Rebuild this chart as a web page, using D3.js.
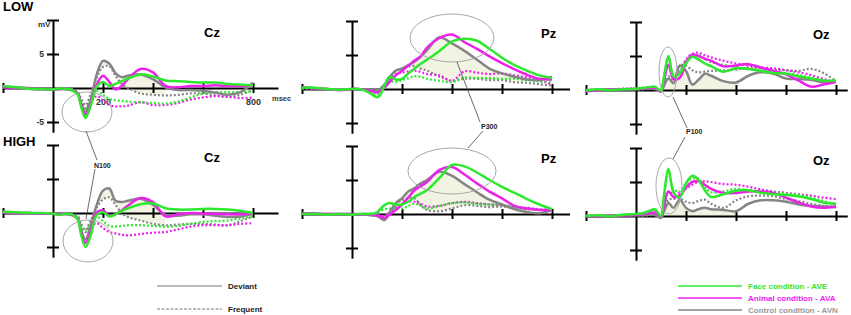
<!DOCTYPE html>
<html>
<head>
<meta charset="utf-8">
<script src="https://cdn.jsdelivr.net/npm/d3@7"></script>
<style>
  body { margin: 0; background: #fff; }
  svg { font-family: "Liberation Sans", Arial, sans-serif; }
</style>
</head>
<body>
<div id="chart-area"></div>
<script>
// sample times (msec), shared by every waveform
let times = [-200,-150,-100,-50,0,25,50,75,100,110,130,150,175,200,225,250,275,300,350,400,450,500,550,600,650,700,750,800];

// ---- LOW, Cz (uV)
let lowCzFaceDev     = [0.3,0.1,-0.1,-0.2,-0.2,-0.1,-0.1,-0.3,-1.0,-2.4,-4.4,-2.7,0.2,0.9,0.3,0.6,1.0,1.4,2.0,1.7,1.1,1.0,0.9,0.8,0.8,0.6,0.5,0.4];
let lowCzAnimalDev   = [0.1,0,-0.1,-0.2,-0.2,-0.2,-0.1,-0.3,-0.9,-2.1,-3.9,-2.4,0.5,1.8,0.9,-0.2,0.3,1.3,2.8,2.3,0.3,0.1,0.3,0.3,0.4,0.3,0.3,0.4];
let lowCzControlDev  = [0.2,0.1,0,-0.1,-0.2,-0.1,-0.2,-0.3,-0.8,-2.0,-3.5,-1.8,2.0,4.0,3.6,2.2,1.6,1.8,2.0,1.3,0.1,-0.3,-0.3,-0.4,-0.7,-1.0,-0.6,0.8];
let lowCzFaceFreq    = [0.2,0,-0.1,-0.1,-0.2,-0.1,-0.1,-0.2,-0.8,-1.9,-3.2,-1.9,-0.5,-1.0,-1.6,-1.8,-1.9,-2.0,-2.1,-2.2,-2.3,-2.0,-1.4,-0.8,-0.6,-0.6,-0.6,-0.5];
let lowCzAnimalFreq  = [0.1,0,-0.1,-0.2,-0.2,-0.1,-0.1,-0.2,-0.8,-1.8,-3.0,-2.1,-1.2,-1.8,-2.5,-2.7,-2.7,-2.6,-2.1,-2.5,-2.5,-2.2,-1.7,-1.4,-1.2,-1.3,-1.5,-1.4];
let lowCzControlFreq = [0.1,0.1,0,-0.1,-0.1,-0.1,-0.1,-0.2,-0.6,-1.4,-2.5,-1.0,1.5,3.1,3.2,1.8,0.6,0,-0.8,-1.0,-1.1,-1.0,-0.8,-0.8,-1.1,-1.3,-1.0,-0.3];

// ---- HIGH, Cz
let highCzFaceDev     = [0.2,0.1,0,0,-0.1,-0.3,-0.1,-0.2,-1.0,-2.8,-5.0,-3.4,-0.3,0.1,-0.5,-0.2,0.3,0.7,1.3,1.4,0.7,0.5,0.5,0.6,0.6,0.5,0.3,0.0];
let highCzAnimalDev   = [0.1,0,0,-0.1,-0.1,-0.2,-0.1,-0.2,-1.0,-2.5,-4.4,-2.9,0.1,0.4,-0.4,-0.2,0.4,1.1,2.2,1.6,-0.5,-0.2,0,-0.1,-0.1,-0.2,-0.2,0];
let highCzControlDev  = [0.1,0,0,-0.1,-0.1,-0.1,-0.2,-0.3,-0.8,-2.2,-3.9,-2.0,1.2,3.3,3.6,1.8,1.6,1.8,2.1,1.2,-0.3,-0.4,-0.2,-0.2,-0.4,-0.6,-0.5,-0.1];
let highCzFaceFreq    = [0.1,0,0,-0.1,-0.1,-0.1,-0.1,-0.2,-0.6,-1.6,-2.7,-1.6,-0.6,-1.2,-1.9,-2.0,-1.9,-1.8,-1.8,-1.9,-2.0,-1.9,-1.6,-1.3,-1.2,-1.1,-0.8,-0.5];
let highCzAnimalFreq  = [0.1,0,0,-0.1,-0.1,-0.1,-0.1,-0.2,-0.6,-1.6,-2.8,-2.0,-1.5,-2.2,-2.8,-3.0,-3.2,-3.3,-3.1,-2.9,-2.8,-2.4,-2.0,-1.8,-1.8,-1.8,-1.6,-1.5];
let highCzControlFreq = [0.1,0,0,-0.1,-0.1,-0.1,-0.1,-0.2,-0.5,-1.4,-2.5,-1.1,0.8,2.0,2.3,1.2,0,-0.6,-1.1,-1.6,-1.8,-1.7,-1.6,-1.6,-1.7,-1.8,-1.2,-0.5];

// ---- LOW, Pz
let lowPzFaceDev     = [0.2,0.2,0,-0.1,0,0,-0.2,-0.7,-1.2,-1.0,0.5,1.8,1.4,1.5,2.3,3.0,3.7,4.3,5.6,7.0,7.4,7.1,5.9,4.6,3.5,2.7,2.0,1.6];
let lowPzAnimalDev   = [0.3,0.1,0,-0.2,0,0,-0.1,-0.3,-0.5,-0.4,0.2,1.0,2.0,2.7,3.4,4.2,4.8,6.1,7.5,8.0,6.9,5.9,4.8,3.8,2.9,2.1,1.5,1.4];
let lowPzControlDev  = [0.2,0.1,0,-0.1,0,0,-0.1,-0.2,-0.2,-0.1,0.6,1.7,2.7,3.0,3.5,4.0,4.8,5.7,7.6,6.7,5.6,4.3,3.0,2.3,1.8,1.4,1.3,1.8];
let lowPzFaceFreq    = [0.1,0.1,0,-0.1,0,0,-0.2,-0.5,-0.8,-0.6,0.3,1.1,1.0,1.3,1.6,1.9,1.8,1.5,1.2,1.0,1.7,1.6,1.6,1.5,1.5,1.3,1.1,1.0];
let lowPzAnimalFreq  = [0.2,0.1,0,-0.1,0,0,-0.1,-0.2,-0.3,-0.2,0.5,1.3,2.2,2.4,2.6,2.7,2.5,2.2,2.0,1.2,2.6,2.4,2.2,2.3,2.0,1.7,1.3,0.6];
let lowPzControlFreq = [0.1,0.1,0,-0.1,0,0,-0.1,-0.2,-0.2,0,0.7,1.7,2.7,3.0,3.3,3.4,3.0,2.7,1.8,1.2,1.5,1.5,1.3,1.3,1.0,0.9,0.7,0.5];

// ---- HIGH, Pz
let highPzFaceDev     = [0,0,-0.1,0,-0.1,0,0,0,0.2,0.6,1.3,1.6,1.4,1.4,1.8,2.5,3.0,3.5,5.3,7.2,7.0,6.1,5.0,4.0,3.1,2.2,1.4,0.7];
let highPzAnimalDev   = [0.1,0,0,0,0,-0.1,0,-0.1,-0.2,-0.3,-0.6,-0.1,0.6,1.4,2.4,3.5,4.1,4.7,6.5,6.9,5.8,4.5,3.3,2.3,1.2,0.8,0.6,0.6];
let highPzControlDev  = [0.1,0.1,0,0,0,-0.1,0,-0.2,-0.3,-0.5,-0.9,0.2,1.6,2.3,3.3,3.8,4.5,5.0,6.2,5.6,4.4,3.2,2.1,1.4,0.7,0.3,0.1,0.6];
let highPzFaceFreq    = [0,0,0,0,0,0,0,0.1,0.2,0.4,0.7,0.8,0.8,0.8,1.2,1.5,1.2,0.8,1.2,1.6,1.7,1.5,1.4,1.3,1.0,0.8,0.6,0.5];
let highPzAnimalFreq  = [0.1,0,0,0,0,0,-0.1,-0.1,-0.1,-0.2,-0.3,0.2,1.0,1.5,1.8,1.8,1.5,1.1,1.2,1.6,1.8,1.6,1.4,1.3,1.0,0.9,0.7,0.6];
let highPzControlFreq = [0.1,0,0,0,0,0,-0.1,-0.1,-0.2,-0.3,-0.5,0.3,1.5,2.0,2.3,2.3,1.3,0.6,0.4,0.8,1.3,1.2,1.0,1.1,0.9,0.7,0.6,0.5];

// ---- LOW, Oz
let lowOzFaceDev     = [-0.1,0.1,0,0.1,0.2,0.3,0.4,0.5,-0.1,1.5,5.0,2.0,2.4,3.9,4.9,4.5,3.9,3.5,2.7,3.2,3.1,2.8,2.5,2.4,2.0,1.7,1.4,1.4];
let lowOzAnimalDev   = [-0.2,0,0.1,0.1,0.2,0.2,0.3,0.3,-0.2,1.0,3.7,1.6,1.8,4.0,5.2,5.0,4.6,4.3,3.5,3.6,3.8,3.3,2.8,2.3,1.4,0.5,0.8,1.2];
let lowOzControlDev  = [0,0,0.1,0.1,0.1,0.2,0.2,0.2,-0.2,0.5,1.7,1.0,3.6,2.8,0.8,1.5,2.4,2.1,1.3,1.1,2.1,2.6,2.4,1.7,1.6,1.5,1.1,1.2];
let lowOzFaceFreq    = [0,0.1,0.1,0.1,0.2,0.3,0.4,0.4,0,1.5,4.7,2.3,2.8,4.3,4.9,5.1,4.6,4.1,3.7,3.4,3.1,2.9,2.6,2.5,2.2,1.8,1.4,1.2];
let lowOzAnimalFreq  = [-0.1,0.1,0.1,0.2,0.2,0.2,0.3,0.3,0,1.5,4.9,2.1,2.6,4.5,5.3,5.5,5.1,4.8,4.3,3.9,3.6,3.3,3.2,2.9,2.6,2.2,1.6,1.2];
let lowOzControlFreq = [0,0,0,0.1,0.1,0.1,0.2,0.1,-0.2,0.4,2.0,1.5,3.6,3.6,2.9,2.6,2.7,2.8,2.9,3.0,3.3,3.2,3.0,2.9,2.8,3.1,2.5,1.3];

// ---- HIGH, Oz
let highOzFaceDev     = [0,0.1,0,0.2,0.3,0.4,0.7,1.0,0,2.5,6.9,3.5,2.7,4.8,5.9,5.3,3.8,2.8,3.2,3.7,3.8,3.4,3.2,3.1,2.9,2.5,2.0,1.8];
let highOzAnimalDev   = [0,0,0.1,0.1,0.2,0.3,0.4,0.5,0,1.2,3.6,2.8,3.0,4.2,5.0,5.1,4.6,4.0,3.4,3.4,3.6,3.6,3.4,2.7,2.0,1.4,1.2,1.4];
let highOzControlDev  = [0,0,0,0.1,0.1,0.1,0.2,0.2,-0.3,0.5,1.9,1.2,2.4,1.2,0.7,1.0,1.2,1.0,0.9,0.7,1.8,2.3,2.3,2.1,1.7,1.5,1.4,1.3];
let highOzFaceFreq    = [0,0.1,0.1,0.2,0.3,0.4,0.6,0.8,0,2.2,6.3,4.0,3.6,4.8,5.5,5.5,4.3,3.5,3.6,4.0,3.8,3.6,3.5,3.3,3.1,2.7,2.2,1.7];
let highOzAnimalFreq  = [0,0,0.1,0.1,0.2,0.3,0.4,0.4,0,1.2,3.6,3.2,3.4,4.0,4.6,5.0,5.1,5.0,4.7,4.6,4.3,3.9,3.6,3.4,3.2,3.0,2.7,2.5];
let highOzControlFreq = [0,0,0,0.1,0.1,0.1,0.1,0.1,-0.2,0.8,2.4,2.5,2.6,2.1,1.9,2.2,2.4,1.8,1.2,2.3,2.9,3.0,2.9,2.5,2.2,1.8,1.5,1.4];

let xTicks = [-200, 200, 400, 600, 800];
let yTicks = [10, 5, -5];

let conditions = ["Face condition - AVE", "Animal condition - AVA", "Control condition - AVN"];
let colors = {face: "#2ee82e", animal: "#ec22ec", control: "#858585"};

// layout
let W = 851, H = 315;
let pxPerMs = 0.25, pxPerUv = 6.8;

let svg = d3.select("#chart-area").append("svg")
    .attr("width", W).attr("height", H);

let panels = [
  {site:"Cz", x0:53,  zero:88,  tEnd:900, shade:[150,450], shadeZero:false, labels:true,
   face:[lowCzFaceDev, lowCzFaceFreq], animal:[lowCzAnimalDev, lowCzAnimalFreq], control:[lowCzControlDev, lowCzControlFreq]},
  {site:"Pz", x0:352, zero:89,  tEnd:870, shade:[175,700], shadeZero:false,
   face:[lowPzFaceDev, lowPzFaceFreq], animal:[lowPzAnimalDev, lowPzAnimalFreq], control:[lowPzControlDev, lowPzControlFreq]},
  {site:"Oz", x0:636, zero:90,  tEnd:845, shade:[110,410], shadeZero:true,
   face:[lowOzFaceDev, lowOzFaceFreq], animal:[lowOzAnimalDev, lowOzAnimalFreq], control:[lowOzControlDev, lowOzControlFreq]},
  {site:"Cz", x0:53,  zero:213, tEnd:900, shade:[150,450], shadeZero:false,
   face:[highCzFaceDev, highCzFaceFreq], animal:[highCzAnimalDev, highCzAnimalFreq], control:[highCzControlDev, highCzControlFreq]},
  {site:"Pz", x0:352, zero:214, tEnd:870, shade:[175,700], shadeZero:false,
   face:[highPzFaceDev, highPzFaceFreq], animal:[highPzAnimalDev, highPzAnimalFreq], control:[highPzControlDev, highPzControlFreq]},
  {site:"Oz", x0:636, zero:216, tEnd:845, shade:[110,400], shadeZero:true,
   face:[highOzFaceDev, highOzFaceFreq], animal:[highOzAnimalDev, highOzAnimalFreq], control:[highOzControlDev, highOzControlFreq]}
];

panels.forEach(function(p) {
  let x = d3.scaleLinear().domain([-200, p.tEnd]).range([p.x0 - 200*pxPerMs, p.x0 + p.tEnd*pxPerMs]);
  let y = d3.scaleLinear().domain([-6.5, 10]).range([p.zero + 6.5*pxPerUv, p.zero - 10*pxPerUv]);
  let g = svg.append("g");

  // shaded difference between control deviant and frequent
  let shadeData = times.map((t, i) => ({t: t, a: p.control[0][i], b: p.shadeZero ? 0 : p.control[1][i]}))
    .filter(d => d.t >= p.shade[0] && d.t <= p.shade[1]);
  g.append("path")
    .datum(shadeData)
    .attr("fill", "#f3f3e4")
    .attr("d", d3.area().curve(d3.curveCatmullRom)
      .x(d => x(d.t)).y0(d => y(d.b)).y1(d => y(Math.max(d.a, d.b))));

  // axes
  let xAxis = g.append("g")
    .attr("transform", "translate(0," + y(0) + ")")
    .call(d3.axisBottom(x).tickValues(xTicks).tickSize(5).tickSizeOuter(0).tickPadding(6)
      .tickFormat(d => (p.labels && (d === 200 || d === 800)) ? d : ""));
  xAxis.selectAll(".tick line").attr("y1", -5).attr("y2", 5);
  xAxis.selectAll("line, path").attr("stroke", "#000").attr("stroke-width", 2);
  xAxis.selectAll("text").attr("font-size", 9).attr("font-weight", "bold").attr("fill", "#333");

  let yAxis = g.append("g")
    .attr("transform", "translate(" + x(0) + ",0)")
    .call(d3.axisLeft(y).tickValues(yTicks).tickSize(6).tickSizeOuter(0)
      .tickFormat(d => (p.labels && d !== 10) ? d : ""));
  yAxis.selectAll(".tick line").attr("x1", 6).attr("x2", -6);
  yAxis.selectAll("line, path").attr("stroke", "#000").attr("stroke-width", 2);
  yAxis.selectAll("text").attr("font-size", 8.5).attr("font-weight", "bold").attr("fill", "#333");

  // waveforms: frequent (dotted) under, deviant (solid) on top
  let line = d3.line().curve(d3.curveCatmullRom).x((v, i) => x(times[i])).y(v => y(v));
  ["control", "animal", "face"].forEach(function(c) {
    g.append("path").attr("d", line(p[c][1]))
      .attr("fill", "none").attr("stroke", colors[c]).attr("stroke-width", 2.2)
      .attr("stroke-dasharray", "2,2");
  });
  ["control", "animal", "face"].forEach(function(c) {
    g.append("path").attr("d", line(p[c][0]))
      .attr("fill", "none").attr("stroke", colors[c]).attr("stroke-width", 2.5)
      .attr("stroke-linejoin", "round");
  });

  g.append("text").attr("x", x(0) + (p.site === "Cz" ? 151 : p.site === "Pz" ? 189 : 177))
    .attr("y", p.zero - 51).attr("font-size", 13).attr("font-weight", "bold").text(p.site);

  if (p.labels) {
    g.append("text").attr("x", x(0) - 15).attr("y", y(9)).attr("font-size", 8)
      .attr("font-weight", "bold").attr("fill", "#333").text("mV");
    g.append("text").attr("x", x(p.tEnd) - 6).attr("y", y(0) + 13).attr("font-size", 7.5)
      .attr("font-weight", "bold").attr("fill", "#333").text("msec");
  }
});

// row labels
svg.append("text").attr("x", 3).attr("y", 11).attr("font-size", 13).attr("font-weight", "bold").text("LOW");
svg.append("text").attr("x", 3).attr("y", 146).attr("font-size", 13).attr("font-weight", "bold").text("HIGH");

// component annotations
let ann = svg.append("g").attr("fill", "none").attr("stroke", "#a8a8a8").attr("stroke-width", 1);
[[87,112,25,20],[88,241,25,21],[452,38,42,24],[452,171,44,23],[668,72,9,25],[669,186,13,28]]
  .forEach(e => ann.append("ellipse").attr("cx", e[0]).attr("cy", e[1]).attr("rx", e[2]).attr("ry", e[3]));
let lk = svg.append("g").attr("stroke", "#444").attr("stroke-width", 0.8);
[[86,131,97,160],[95,169,86,219],[457,62,480,122],[483,131,468,148],[673,97,687,128],[685,137,673,159]]
  .forEach(l => lk.append("line").attr("x1", l[0]).attr("y1", l[1]).attr("x2", l[2]).attr("y2", l[3]));
[["N100",94,168],["P300",481,129],["P100",686,134]].forEach(t =>
  svg.append("text").attr("x", t[1]).attr("y", t[2]).attr("font-size", 7).attr("font-weight", "bold")
    .attr("fill", "#222").text(t[0]));

// legend: line style
let styles = [["Deviant", null, 286], ["Frequent", "3,1.5", 309]];
styles.forEach(function(s) {
  svg.append("line").attr("x1", 157).attr("x2", 222).attr("y1", s[2]).attr("y2", s[2])
    .attr("stroke", "#777").attr("stroke-width", 1.2).attr("stroke-dasharray", s[1]);
  svg.append("text").attr("x", 228).attr("y", s[2] + 3).attr("font-size", 8).attr("font-weight", "bold")
    .attr("fill", "#222").text(s[0]);
});

// legend: conditions
let legendKeys = ["face", "animal", "control"];
conditions.forEach(function(name, i) {
  let ly = [286, 298, 310][i];
  svg.append("line").attr("x1", 678).attr("x2", 742).attr("y1", ly).attr("y2", ly)
    .attr("stroke", colors[legendKeys[i]]).attr("stroke-width", 1.6);
  svg.append("text").attr("x", 748).attr("y", ly + 3).attr("font-size", 8).attr("font-weight", "bold")
    .attr("fill", i === 2 ? "#999" : colors[legendKeys[i]]).text(name);
});
</script>
</body>
</html>
